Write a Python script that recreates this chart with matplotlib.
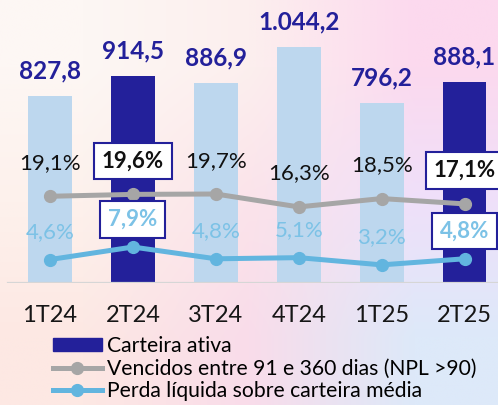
import matplotlib.pyplot as plt
import numpy as np
from matplotlib.colors import to_rgb
from matplotlib.patches import Patch
from matplotlib.lines import Line2D

plt.rcParams['font.family'] = ['Lato', 'DejaVu Sans']

quarters = ['1T24', '2T24', '3T24', '4T24', '1T25', '2T25']
carteira = [827.8, 914.5, 886.9, 1044.2, 796.2, 888.1]
npl90 = [19.1, 19.6, 19.7, 16.3, 18.5, 17.1]
perda = [4.6, 7.9, 4.8, 5.1, 3.2, 4.8]
highlight = ['2T24', '2T25']

navy = '#23209a'
light = '#bdd7ee'
grey = '#a6a6a6'
blue = '#62b5df'
blue_txt = '#7cc2e6'

def fmt_num(v):
    s = f'{v:,.1f}'
    return s.replace(',', 'X').replace('.', ',').replace('X', '.')

def fmt_pct(v):
    return f'{v:.1f}%'.replace('.', ',')

fig = plt.figure(figsize=(4.98, 4.05), dpi=100)

# soft gradient background
bg = fig.add_axes([0, 0, 1, 1])
grid = [['#fdf7f4', '#fcefee', '#fcd9ee'],
        ['#fdf1ec', '#fbe3ea', '#efe0fa'],
        ['#fde8e3', '#f9dcea', '#dde9f9']]
img = np.array([[to_rgb(c) for c in row] for row in grid])
bg.imshow(img, aspect='auto', interpolation='bilinear', extent=[0, 1, 0, 1])
bg.axis('off')
bg.set_zorder(0)

ax = fig.add_axes([0, 122 / 405, 1, 283 / 405])
ax.set_zorder(1)
ax.set_facecolor('none')
x = np.arange(len(quarters))
colors = [navy if q in highlight else light for q in quarters]
ax.bar(x, carteira, width=0.53, color=colors, zorder=2)
for xi, v in zip(x, carteira):
    ax.annotate(fmt_num(v), (xi, v), xytext=(0, 18), textcoords='offset points',
                ha='center', va='center', fontsize=17.5, fontweight='bold', color=navy)
ax.set_xlim(-0.603, 5.404)
ax.set_ylim(0, 1252)
ax.axhline(0, xmin=8 / 498, xmax=1, color='#d6d6d6', lw=1.6, zorder=3)
ax.set_xticks(x, quarters, fontsize=17, color='#161616')
ax.tick_params(axis='x', length=0, pad=16)
ax.set_yticks([])
for s in ax.spines.values():
    s.set_visible(False)

box = dict(boxstyle='square,pad=0.35', fc='white', ec=navy, lw=1.5)

ax2 = ax.twinx()
ax2.set_zorder(2)
ax2.plot(x, npl90, color=grey, lw=3.6, marker='o', ms=8.5, solid_capstyle='round')
ax2.set_ylim(-3.72, 70.75)
for q, xi, v in zip(quarters, x, npl90):
    hl = q in highlight
    ax2.annotate(fmt_pct(v), (xi, v), xytext=(0, 24), textcoords='offset points',
                 ha='center', va='center', fontsize=16, color='#111111',
                 fontweight='bold' if hl else 'normal', bbox=box if hl else None)

ax3 = ax.twinx()
ax3.set_zorder(3)
ax3.plot(x, perda, color=blue, lw=3.6, marker='o', ms=8.5, solid_capstyle='round')
ax3.set_ylim(-1.57, 72.9)
for q, xi, v in zip(quarters, x, perda):
    hl = q in highlight
    ax3.annotate(fmt_pct(v), (xi, v), xytext=(0, 20), textcoords='offset points',
                 ha='center', va='center', fontsize=16, color=blue_txt,
                 fontweight='bold' if hl else 'normal', bbox=box if hl else None)

for a in (ax2, ax3):
    a.set_yticks([])
    for s in a.spines.values():
        s.set_visible(False)

handles = [Patch(color=navy),
           Line2D([], [], color=grey, lw=3.6, marker='o', ms=8.5),
           Line2D([], [], color=blue, lw=3.6, marker='o', ms=8.5)]
labels = ['Carteira ativa', 'Vencidos entre 91 e 360 dias (NPL >90)',
          'Perda líquida sobre carteira média']
fig.legend(handles, labels, loc='upper left', bbox_to_anchor=(53 / 498, 1 - 336 / 405),
           frameon=False, fontsize=15.2, borderpad=0, borderaxespad=0,
           handlelength=2.3, handleheight=0.5, handletextpad=0.25,
           labelspacing=0.12)

fig.savefig('out.png', dpi=100)
